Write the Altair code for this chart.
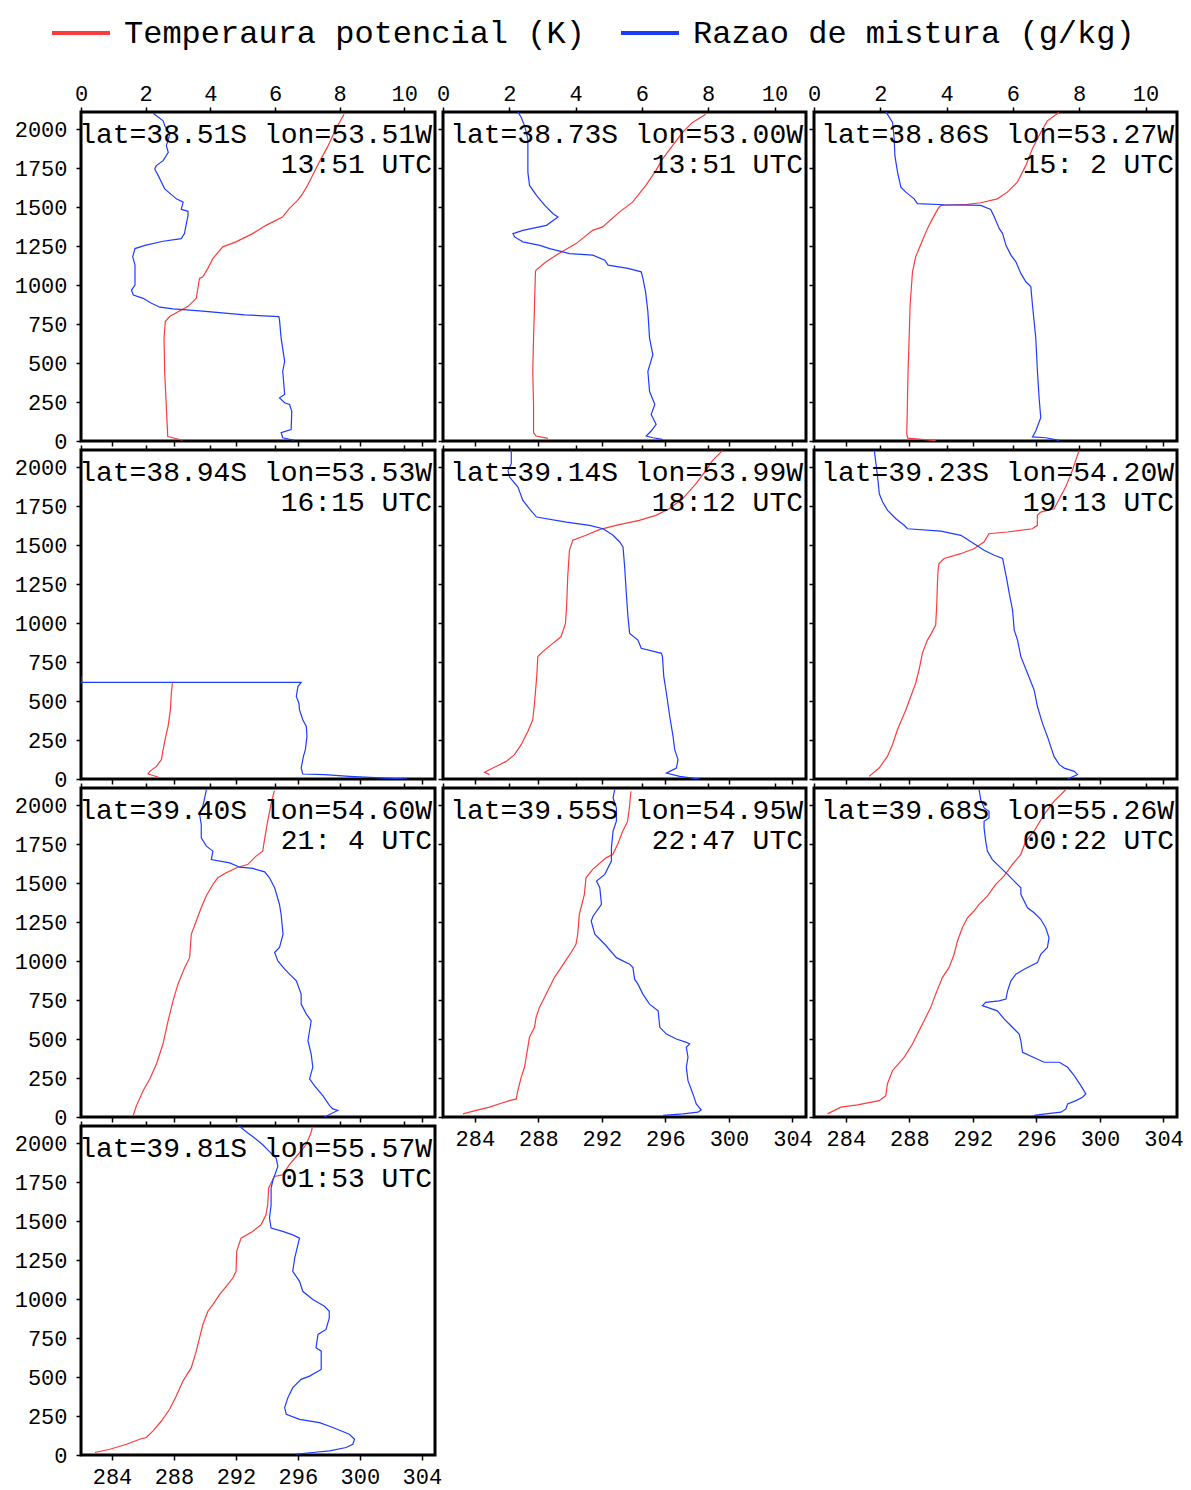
import altair as alt
import pandas as pd

# ---------------- data (height m, value) ----------------
lats = ["38.51S", "38.73S", "38.86S", "38.94S", "39.14S", "39.23S", "39.40S", "39.55S", "39.68S", "39.81S"]
lons = ["53.51W", "53.00W", "53.27W", "53.53W", "53.99W", "54.20W", "54.60W", "54.95W", "55.26W", "55.57W"]
times = ["13:51", "13:51", "15: 2", "16:15", "18:12", "19:13", "21: 4", "22:47", "00:22", "01:53"]

z_ticks = [0, 250, 500, 750, 1000, 1250, 1500, 1750, 2000]
theta_ticks = [284, 288, 292, 296, 300, 304]
mix_ticks = [0, 2, 4, 6, 8, 10]

theta_p1 = [(5, 288.55), (28, 287.6), (234, 287.5), (447, 287.4), (660, 287.36), (766, 287.44), (798, 287.72),
            (840, 288.47), (862, 288.9), (915, 289.44), (1043, 289.65), (1053, 289.87), (1107, 290.19),
            (1170, 290.51), (1245, 291.15), (1277, 292.0), (1330, 293.08), (1383, 293.94), (1415, 294.58),
            (1436, 295.0), (1490, 295.44), (1543, 295.98), (1585, 296.3), (1639, 296.62), (1724, 297.05),
            (1787, 297.37), (1883, 297.9), (2000, 298.44), (2096, 298.98)]
mix_p1 = [(5, 6.6), (21, 6.24), (53, 6.19), (74, 6.5), (191, 6.52), (234, 6.45), (245, 6.3), (277, 6.14),
          (298, 6.3), (447, 6.24), (511, 6.3), (660, 6.19), (777, 6.14), (798, 6.12), (809, 5.06), (834, 3.67),
          (847, 2.85), (858, 2.44), (883, 2.18), (915, 1.92), (936, 1.62), (968, 1.56), (1000, 1.67),
          (1128, 1.67), (1181, 1.6), (1234, 1.67), (1255, 1.98), (1281, 2.54), (1298, 3.1), (1330, 3.2),
          (1447, 3.31), (1473, 3.31), (1485, 3.1), (1532, 3.16), (1553, 2.95), (1617, 2.59), (1660, 2.49),
          (1702, 2.39), (1745, 2.28), (1766, 2.33), (1798, 2.54), (1851, 2.7), (1894, 2.64), (1968, 2.75),
          (2022, 2.59), (2053, 2.54), (2102, 2.23)]

theta_p2 = [(17, 288.6), (32, 287.86), (53, 287.7), (234, 287.7), (447, 287.65), (660, 287.7), (872, 287.76),
            (1085, 287.82), (1096, 287.86), (1149, 288.49), (1192, 289.12), (1224, 289.64), (1266, 290.38),
            (1351, 291.42), (1373, 292.05), (1468, 293.1), (1532, 293.93), (1639, 294.77), (1734, 295.4),
            (1809, 295.82), (1894, 296.45), (1979, 297.08), (2043, 297.7), (2096, 298.54)]
mix_p2 = [(11, 6.62), (21, 6.33), (32, 6.13), (64, 6.28), (106, 6.43), (170, 6.28), (234, 6.39), (319, 6.23),
          (447, 6.18), (553, 6.33), (660, 6.23), (830, 6.18), (958, 6.11), (1043, 6.03), (1085, 5.98),
          (1107, 5.58), (1128, 4.98), (1160, 4.88), (1192, 4.52), (1202, 3.82), (1234, 3.22), (1255, 2.92),
          (1277, 2.41), (1309, 2.16), (1330, 2.11), (1351, 2.41), (1383, 3.12), (1436, 3.47), (1458, 3.32),
          (1511, 3.07), (1575, 2.82), (1639, 2.61), (1724, 2.56), (1851, 2.56), (1937, 2.56), (2022, 2.46),
          (2075, 2.36), (2111, 2.26)]

theta_p3 = [(3, 289.66), (18, 287.9), (43, 287.84), (234, 287.88), (447, 287.92), (660, 287.99), (872, 288.05),
            (1085, 288.2), (1181, 288.4), (1287, 288.83), (1362, 289.14), (1426, 289.46), (1490, 289.81),
            (1511, 289.98), (1517, 291.66), (1528, 292.5), (1553, 293.54), (1596, 294.17), (1660, 294.8),
            (1766, 295.33), (1873, 295.74), (1979, 296.27), (2053, 296.69), (2107, 297.42)]
mix_p3 = [(4, 7.4), (21, 6.99), (26, 6.59), (64, 6.69), (149, 6.84), (277, 6.79), (447, 6.74), (660, 6.69),
          (872, 6.59), (990, 6.54), (1021, 6.39), (1075, 6.24), (1149, 6.09), (1192, 5.94), (1255, 5.79),
          (1330, 5.69), (1362, 5.59), (1436, 5.44), (1485, 5.33), (1511, 5.03), (1515, 3.93), (1522, 3.12),
          (1553, 3.02), (1596, 2.77), (1628, 2.62), (1724, 2.52), (1830, 2.44), (1937, 2.42), (2043, 2.37),
          (2111, 2.17)]

theta_p4 = [(13, 286.97), (32, 286.33), (49, 286.44), (81, 286.87), (124, 287.19), (188, 287.3), (273, 287.47),
            (337, 287.62), (443, 287.77), (550, 287.83), (614, 287.9)]
mix_p4 = [(0, 10.1), (6, 9.43), (17, 8.3), (28, 7.53), (32, 6.86), (70, 6.81), (145, 6.88), (188, 6.94),
          (273, 6.99), (337, 6.97), (380, 6.86), (443, 6.76), (486, 6.74), (529, 6.66), (593, 6.71),
          (620, 6.81), (620, 0.0), (660, 0.0)]

theta_p5 = [(28, 284.93), (43, 284.62), (70, 285.14), (113, 285.98), (156, 286.5), (220, 286.92), (305, 287.34),
            (380, 287.65), (486, 287.76), (657, 287.9), (785, 287.97), (817, 288.28), (870, 288.91),
            (912, 289.43), (998, 289.71), (1126, 289.79), (1296, 289.85), (1467, 289.96), (1531, 290.17),
            (1563, 291.0), (1599, 291.84), (1627, 292.89), (1659, 294.35), (1691, 295.4), (1733, 296.24),
            (1797, 297.08), (1893, 297.91), (1978, 298.54), (2042, 298.96), (2106, 299.59)]
mix_p5 = [(0, 7.74), (17, 7.14), (38, 6.74), (49, 6.84), (70, 7.04), (124, 7.09), (188, 6.99), (273, 6.94),
          (401, 6.84), (550, 6.74), (657, 6.66), (785, 6.62), (806, 6.59), (838, 5.98), (891, 5.88),
          (934, 5.63), (1040, 5.58), (1190, 5.53), (1360, 5.48), (1488, 5.43), (1520, 5.33), (1563, 5.13),
          (1605, 4.83), (1627, 4.42), (1648, 3.72), (1680, 2.82), (1733, 2.61), (1787, 2.41), (1872, 2.26),
          (1936, 2.01), (1978, 1.96), (2021, 2.06), (2106, 2.06)]

theta_p6 = [(17, 285.47), (70, 286.1), (145, 286.62), (220, 286.94), (316, 287.25), (443, 287.78), (529, 288.09),
            (614, 288.4), (699, 288.61), (806, 288.82), (891, 289.14), (934, 289.39), (987, 289.66),
            (1126, 289.73), (1254, 289.77), (1339, 289.81), (1382, 289.87), (1414, 290.19), (1445, 291.23),
            (1477, 292.07), (1520, 292.7), (1573, 293.01), (1584, 294.17), (1605, 295.74), (1627, 296.06),
            (1691, 296.06), (1712, 296.27), (1733, 297.11), (1872, 297.84), (1978, 298.26), (2042, 298.47),
            (2106, 298.68)]
mix_p6 = [(0, 7.65), (28, 7.95), (49, 7.85), (70, 7.55), (92, 7.4), (145, 7.24), (273, 7.04), (358, 6.89),
          (465, 6.74), (571, 6.64), (678, 6.44), (785, 6.24), (891, 6.14), (955, 6.04), (1083, 5.99),
          (1190, 5.89), (1275, 5.82), (1360, 5.74), (1414, 5.69), (1435, 5.44), (1467, 5.13), (1509, 4.83),
          (1563, 4.43), (1590, 3.83), (1605, 2.82), (1627, 2.72), (1669, 2.47), (1723, 2.22), (1776, 2.07),
          (1829, 1.97), (1936, 1.92), (2021, 1.87), (2106, 1.82)]

theta_p7 = [(10, 285.37), (73, 285.58), (169, 286.01), (244, 286.44), (340, 286.87), (468, 287.29), (617, 287.62),
            (745, 287.94), (852, 288.26), (958, 288.69), (1022, 289.01), (1172, 289.12), (1257, 289.44),
            (1342, 289.76), (1417, 290.08), (1491, 290.51), (1534, 290.83), (1566, 291.37), (1602, 292.12),
            (1619, 292.76), (1673, 293.3), (1705, 293.73), (1769, 293.83), (1897, 294.05), (2003, 294.26),
            (2093, 294.48)]
mix_p7 = [(0, 7.53), (42, 7.94), (52, 7.79), (73, 7.69), (137, 7.48), (201, 7.22), (244, 7.07), (319, 7.17),
          (404, 7.12), (489, 7.02), (553, 7.07), (617, 7.12), (660, 6.97), (724, 6.81), (788, 6.81),
          (873, 6.66), (916, 6.45), (948, 6.3), (1001, 6.09), (1055, 5.99), (1087, 6.14), (1172, 6.25),
          (1299, 6.19), (1363, 6.14), (1470, 5.99), (1534, 5.83), (1572, 5.68), (1594, 5.32), (1602, 4.91),
          (1630, 4.6), (1651, 4.03), (1705, 4.08), (1737, 3.88), (1790, 3.72), (1875, 3.72), (1939, 3.67),
          (2003, 3.78), (2099, 3.88)]

theta_p8 = [(20, 283.26), (42, 284.09), (63, 284.93), (88, 285.66), (105, 286.19), (116, 286.61), (169, 286.71),
            (254, 286.92), (319, 287.13), (447, 287.34), (511, 287.44), (575, 287.76), (639, 287.86),
            (703, 288.07), (767, 288.39), (830, 288.7), (894, 289.01), (926, 289.22), (990, 289.64),
            (1055, 290.06), (1108, 290.37), (1172, 290.48), (1299, 290.58), (1428, 290.9), (1534, 291.0),
            (1588, 291.42), (1662, 292.26), (1683, 292.68), (1747, 292.99), (1833, 293.31), (1897, 293.62),
            (1982, 293.73), (2088, 293.83)]
mix_p8 = [(10, 6.64), (20, 7.24), (31, 7.69), (46, 7.79), (84, 7.64), (148, 7.54), (233, 7.39), (319, 7.34),
          (383, 7.39), (447, 7.34), (468, 7.44), (479, 7.34), (500, 7.04), (532, 6.74), (575, 6.54),
          (681, 6.49), (724, 6.23), (788, 6.03), (852, 5.88), (884, 5.78), (958, 5.73), (980, 5.63),
          (1022, 5.23), (1108, 4.88), (1172, 4.58), (1257, 4.47), (1289, 4.53), (1364, 4.78), (1470, 4.73),
          (1513, 4.63), (1556, 4.88), (1641, 5.08), (1726, 5.08), (1833, 5.13), (1897, 5.23), (1982, 5.23),
          (2046, 5.13), (2099, 5.18)]

theta_p9 = [(20, 282.85), (63, 283.69), (78, 284.74), (105, 286.1), (137, 286.52), (212, 286.62), (297, 286.94),
            (383, 287.67), (468, 288.2), (532, 288.51), (617, 288.93), (703, 289.35), (788, 289.66),
            (894, 290.08), (958, 290.5), (1044, 290.82), (1129, 291.03), (1214, 291.34), (1278, 291.66),
            (1321, 292.07), (1364, 292.39), (1417, 292.91), (1492, 293.44), (1545, 293.96), (1620, 294.49),
            (1683, 295.01), (1769, 295.33), (1833, 295.85), (1939, 296.48), (2024, 297.1), (2099, 297.84)]
mix_p9 = [(10, 6.64), (20, 6.99), (31, 7.45), (52, 7.6), (84, 7.65), (105, 7.9), (127, 8.1), (148, 8.2),
          (201, 8.05), (265, 7.85), (319, 7.65), (351, 7.4), (351, 6.94), (415, 6.29), (489, 6.24),
          (532, 6.19), (585, 5.94), (628, 5.74), (681, 5.53), (703, 5.23), (714, 5.08), (735, 5.18),
          (745, 5.58), (756, 5.79), (809, 5.84), (873, 5.94), (916, 6.09), (948, 6.34), (990, 6.74),
          (1044, 6.84), (1087, 7.04), (1150, 7.09), (1214, 6.99), (1268, 6.84), (1310, 6.64), (1342, 6.44),
          (1428, 6.24), (1470, 6.24), (1502, 6.09), (1556, 5.84), (1609, 5.58), (1651, 5.38), (1705, 5.23),
          (1769, 5.18), (1854, 5.13), (1897, 5.13), (1918, 5.28), (1961, 5.28), (1982, 5.13), (2035, 5.03),
          (2099, 4.98)]

theta_p10 = [(16, 282.9), (37, 283.86), (69, 284.94), (101, 285.79), (112, 286.22), (155, 286.65), (218, 287.19),
             (293, 287.72), (378, 288.15), (474, 288.58), (560, 289.12), (666, 289.44), (794, 289.76),
             (837, 289.87), (922, 290.19), (965, 290.51), (1029, 290.94), (1093, 291.47), (1135, 291.8),
             (1178, 292.01), (1306, 292.05), (1391, 292.33), (1434, 293.08), (1476, 293.62), (1540, 293.94),
             (1604, 294.05), (1711, 294.11), (1786, 294.48), (1796, 295.01), (1860, 295.44), (1924, 295.98),
             (1988, 296.51), (2062, 296.83), (2105, 296.94)]
mix_p10 = [(5, 6.66), (16, 7.17), (27, 7.69), (48, 8.2), (69, 8.41), (101, 8.46), (133, 8.3), (176, 7.79),
           (208, 7.38), (229, 6.76), (261, 6.35), (304, 6.3), (368, 6.4), (432, 6.55), (485, 6.81), (506, 7.07),
           (549, 7.43), (666, 7.43), (688, 7.27), (773, 7.33), (805, 7.58), (879, 7.68), (922, 7.68),
           (954, 7.53), (997, 7.17), (1050, 6.86), (1114, 6.76), (1178, 6.55), (1263, 6.61), (1349, 6.71),
           (1391, 6.76), (1412, 6.55), (1434, 6.24), (1455, 5.88), (1519, 5.83), (1604, 5.88), (1711, 5.88),
           (1765, 5.94), (1850, 6.09), (1903, 6.04), (1946, 5.83), (1988, 5.63), (2041, 5.32), (2073, 5.11),
           (2116, 4.86)]

thetas = [theta_p1, theta_p2, theta_p3, theta_p4, theta_p5, theta_p6, theta_p7, theta_p8, theta_p9, theta_p10]
mixes = [mix_p1, mix_p2, mix_p3, mix_p4, mix_p5, mix_p6, mix_p7, mix_p8, mix_p9, mix_p10]

TH_NAME = "Temperaura potencial (K)"
MX_NAME = "Razao de mistura (g/kg)"
RED = "#fa3c3c"
BLUE = "#1e3cff"
FONT = "Liberation Mono"

COL_W = [354, 363, 363]
PANEL_H = 329


def make_df(pairs, name):
    return pd.DataFrame({
        "z": [p[0] for p in pairs],
        "val": [p[1] for p in pairs],
        "i": list(range(len(pairs))),
        "var": name,
    })


def panel(idx):
    col = idx % 3
    row = idx // 3
    w = COL_W[col]
    yenc = alt.Y("z:Q", scale=alt.Scale(domain=[0, 2110], nice=False, zero=False),
                 axis=alt.Axis(values=z_ticks, labels=(col == 0), title=None, orient="left",
                               labelPadding=9, format="d"))
    cscale = alt.Scale(domain=[TH_NAME, MX_NAME], range=[RED, BLUE])
    if idx == 0:
        leg = alt.Legend(orient="none", legendX=-31, legendY=-110, direction="horizontal", title=None,
                         symbolType="stroke", symbolSize=3364, symbolStrokeWidth=4,
                         labelFont=FONT, labelFontSize=32, labelColor="black", labelOffset=12,
                         columnPadding=28, labelLimit=700, padding=0)
    else:
        leg = None
    red = alt.Chart(make_df(thetas[idx], TH_NAME)).mark_line(strokeWidth=1.2, clip=True).encode(
        x=alt.X("val:Q", scale=alt.Scale(domain=[282, 304.85], nice=False, zero=False),
                axis=alt.Axis(orient="bottom", values=theta_ticks, labels=(idx in (7, 8, 9)),
                              title=None, labelPadding=6)),
        y=yenc,
        order="i:Q",
        color=alt.Color("var:N", scale=cscale, legend=leg),
    )
    blue = alt.Chart(make_df(mixes[idx], MX_NAME)).mark_line(strokeWidth=1.2, clip=True).encode(
        x=alt.X("val:Q", scale=alt.Scale(domain=[0, 10.95], nice=False, zero=False),
                axis=alt.Axis(orient="top", values=mix_ticks, labels=(row == 0), title=None,
                              labelPadding=2)),
        y=yenc,
        order="i:Q",
        color=alt.Color("var:N", scale=cscale, legend=leg),
    )
    hdr = pd.DataFrame({"t": [f"lat={lats[idx]} lon={lons[idx]}"], "u": [f"{times[idx]} UTC"]})
    t1 = alt.Chart(hdr).mark_text(align="right", baseline="alphabetic", font=FONT, fontSize=28,
                                  color="black").encode(x=alt.value(w - 3), y=alt.value(31), text="t:N")
    t2 = alt.Chart(hdr).mark_text(align="right", baseline="alphabetic", font=FONT, fontSize=28,
                                  color="black").encode(x=alt.value(w - 3), y=alt.value(61), text="u:N")
    return alt.layer(red, blue, t1, t2).resolve_scale(x="independent").properties(width=w, height=PANEL_H)


panels = [panel(k) for k in range(10)]

chart = alt.concat(*panels, columns=3, spacing={"row": 9, "column": 8}).properties(
    bounds="flush",
    padding={"left": 12, "top": 0, "right": 0, "bottom": 0},
    background="white",
).resolve_scale(color="independent", x="independent", y="independent").configure_view(
    stroke="black", strokeWidth=3
).configure_axis(
    labelFont=FONT, labelFontSize=22, labelColor="black", tickColor="black", tickSize=5,
    tickWidth=1.5, domain=False, grid=False, labelFlush=False, labelOverlap=False
)

chart.save("out.html", embed_options={"renderer": "svg", "actions": False})
